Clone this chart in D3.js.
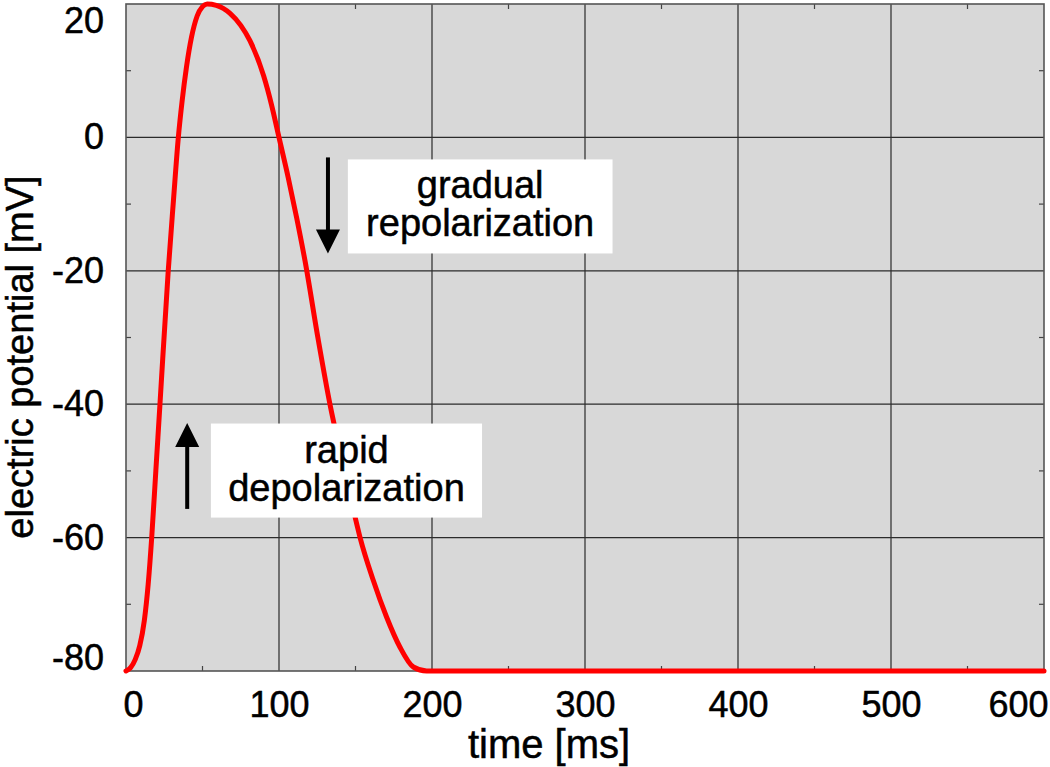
<!DOCTYPE html>
<html lang="en">
<head>
  <meta charset="UTF-8">
  <title>Action potential</title>
  <script src="https://d3js.org/d3.v7.min.js"></script>
  <style>
    body { margin: 0; padding: 0; background: #fff; }
    svg { display: block; }
    text {
      font-family: "Helvetica Neue", Helvetica, "Liberation Sans", Arial, sans-serif;
      fill: #000; stroke: #000; stroke-width: 0.5px;
    }
    .grid line { stroke: #2b2b2b; stroke-width: 1.2; }
    .minor line { stroke: #444; stroke-width: 1.2; }
  </style>
</head>
<body>
  <svg id="chart" width="1050" height="767"></svg>

  <script>
    const timeMs = [0, 3, 6, 9, 12, 14.5, 16.8, 19.5, 22.2, 27.6, 31, 34.2, 36.7, 39.5, 42.8, 46.5,
                    50, 53, 59, 68, 75, 81, 90, 95, 100, 106, 111.5, 117, 125.7, 133.3, 141.5,
                    149.7, 153, 161.6, 170.3, 179, 187.8, 196.5, 300, 400, 500, 600];
    const potentialMv = [-80, -79.5, -78.3, -76.2, -72.4, -67, -60, -50, -40, -20, -9.5, 0, 5.5, 10.5, 15, 18.2,
                         19.6, 20, 19.8, 18.6, 16.8, 14.5, 9.2, 5, 0, -6, -12, -18.5, -30.4, -40, -48.6,
                         -56.9, -60, -66.4, -71.9, -76.4, -79.4, -80, -80, -80, -80, -80];

    const xTicks = [0, 100, 200, 300, 400, 500, 600];
    const yTicks = [-80, -60, -40, -20, 0, 20];
    const xMinor = [50, 150, 250, 350, 450, 550];
    const yMinor = [-70, -50, -30, -10, 10];

    const xLabel = "time [ms]";
    const yLabel = "electric potential [mV]";

    // annotation boxes: [t0, t1] x [v0, v1] in data units, arrows as [t, vFrom, vTo]
    const notes = [
      { lines: ["gradual", "repolarization"], box: [145, 318, -3.3, -17.4], arrow: [132, -3, -17.4] },
      { lines: ["rapid", "depolarization"], box: [55.5, 232.7, -42.9, -57], arrow: [40, -55.7, -42.8] }
    ];

    const width = 1050, height = 767;
    const margin = { top: 4, right: 6, bottom: 96, left: 126 };

    const x = d3.scaleLinear().domain([0, 600]).range([margin.left, width - margin.right]);
    const y = d3.scaleLinear().domain([-80, 20]).range([height - margin.bottom, margin.top]);

    const svg = d3.select("#chart");
    const x0 = x.range()[0], x1 = x.range()[1], y0 = y.range()[0], y1 = y.range()[1];

    // plot background
    svg.append("rect")
      .attr("x", x0).attr("y", y1)
      .attr("width", x1 - x0).attr("height", y0 - y1)
      .attr("fill", "#d8d8d8");

    // major grid
    const grid = svg.append("g").attr("class", "grid");
    grid.selectAll("line.v").data(xTicks.slice(1, -1)).join("line").attr("class", "v")
      .attr("x1", d => x(d)).attr("x2", d => x(d)).attr("y1", y1).attr("y2", y0);
    grid.selectAll("line.h").data(yTicks.slice(1, -1)).join("line").attr("class", "h")
      .attr("x1", x0).attr("x2", x1).attr("y1", d => y(d)).attr("y2", d => y(d));

    // minor ticks on all four sides
    const tk = 5;
    const minor = svg.append("g").attr("class", "minor");
    xMinor.forEach(d => {
      minor.append("line").attr("x1", x(d)).attr("x2", x(d)).attr("y1", y0).attr("y2", y0 - tk);
      minor.append("line").attr("x1", x(d)).attr("x2", x(d)).attr("y1", y1).attr("y2", y1 + tk);
    });
    yMinor.forEach(d => {
      minor.append("line").attr("x1", x0).attr("x2", x0 + tk).attr("y1", y(d)).attr("y2", y(d));
      minor.append("line").attr("x1", x1).attr("x2", x1 - tk).attr("y1", y(d)).attr("y2", y(d));
    });

    // frame
    svg.append("rect")
      .attr("x", x0).attr("y", y1)
      .attr("width", x1 - x0).attr("height", y0 - y1)
      .attr("fill", "none").attr("stroke", "#555").attr("stroke-width", 1.6);

    // curve
    const pts = timeMs.map((t, i) => [t, potentialMv[i]]);
    const line = d3.line()
      .x(d => x(d[0])).y(d => y(d[1]))
      .curve(d3.curveMonotoneX);
    svg.append("path")
      .datum(pts)
      .attr("d", line)
      .attr("fill", "none")
      .attr("stroke", "#ff0000")
      .attr("stroke-width", 5)
      .attr("stroke-linejoin", "round")
      .attr("stroke-linecap", "round");

    // annotations: white box, two-line label, arrow
    notes.forEach(n => {
      const [ta, tb, va, vb] = n.box;
      const bx = x(ta), bw = x(tb) - x(ta), by = y(va), bh = y(vb) - y(va);
      svg.append("rect").attr("x", bx).attr("y", by).attr("width", bw).attr("height", bh).attr("fill", "#fff");
      const cx = bx + bw / 2, cy = by + bh / 2;
      const label = svg.append("text")
        .attr("text-anchor", "middle")
        .style("font-size", "38px");
      label.append("tspan").attr("x", cx).attr("y", cy - 8).text(n.lines[0]);
      label.append("tspan").attr("x", cx).attr("y", cy + 30).text(n.lines[1]);

      const [at, vFrom, vTo] = n.arrow;
      const ax = x(at), ya = y(vFrom), yb = y(vTo);
      const dir = yb > ya ? 1 : -1, head = 24, hw = 12;
      svg.append("line")
        .attr("x1", ax).attr("x2", ax)
        .attr("y1", ya).attr("y2", yb - dir * head + dir * 2)
        .attr("stroke", "#000").attr("stroke-width", 4);
      svg.append("path")
        .attr("d", `M${ax - hw},${yb - dir * head} L${ax + hw},${yb - dir * head} L${ax},${yb} Z`)
        .attr("fill", "#000");
    });

    // tick labels (plain hyphen for negatives, as in the original)
    const fmt = d => String(d);

    const xAxis = svg.append("g")
      .attr("transform", `translate(0,${y0})`)
      .call(d3.axisBottom(x).tickValues(xTicks).tickSize(0).tickPadding(20).tickFormat(fmt));
    xAxis.select(".domain").remove();
    xAxis.selectAll("text").attr("fill", "#000").style("font-size", "36px").attr("font-family", null);
    xAxis.selectAll(".tick").filter(d => d === 0).select("text").attr("dx", 7);
    xAxis.selectAll(".tick").filter(d => d === 600).select("text").attr("text-anchor", "end").attr("dx", 4);

    const yAxis = svg.append("g")
      .attr("transform", `translate(${x0},0)`)
      .call(d3.axisLeft(y).tickValues(yTicks).tickSize(0).tickPadding(22).tickFormat(fmt));
    yAxis.select(".domain").remove();
    yAxis.selectAll("text").attr("fill", "#000").style("font-size", "36px").attr("font-family", null);
    yAxis.selectAll(".tick").filter(d => d === 20).select("text").attr("dy", "0.8em");
    yAxis.selectAll(".tick").filter(d => d === -80).select("text").attr("dy", "-0.04em");

    svg.append("text")
      .attr("x", 549).attr("y", 758)
      .attr("text-anchor", "middle")
      .style("font-size", "40px")
      .text(xLabel);

    svg.append("text")
      .attr("transform", `translate(33,357) rotate(-90)`)
      .attr("text-anchor", "middle")
      .style("font-size", "38px")
      .text(yLabel);
  </script>
</body>
</html>
